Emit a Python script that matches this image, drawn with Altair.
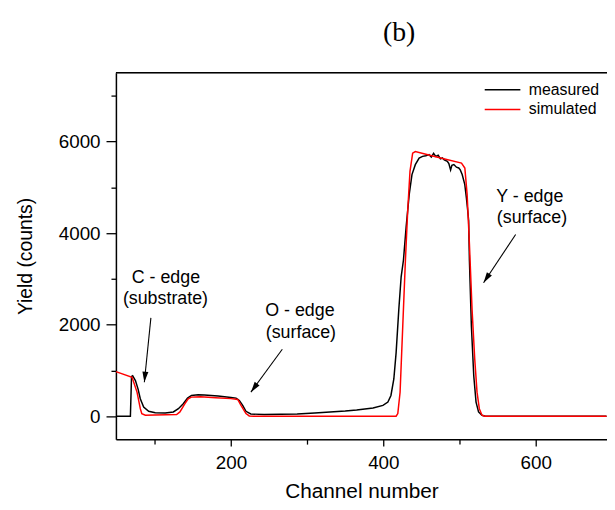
import altair as alt
import pandas as pd

# ---------------- data ----------------
meas_ch = [49, 68, 69.5, 71, 74.6, 78, 81, 85.4, 92, 100.6, 113.6, 124.4, 131, 137.4,
           143, 148.2, 156.9, 165, 174, 183, 191.5, 200, 206.7, 211, 215.4, 219.7, 226,
           243.5, 265, 286.9, 310, 330, 350, 365, 386.5, 399.5, 406, 410, 413.8, 416.8,
           420.3, 423.4, 426.4, 429.9, 434, 437.6, 442, 447, 451.5, 455.8, 460, 463, 466,
           468.8, 472, 475, 477.5, 480, 484, 486, 488.3, 490, 492.6, 496, 499, 501, 503.5,
           506.9, 509, 510.8, 512, 513, 515.6, 518.7, 521.7, 525, 529.5, 534, 693]
meas_y = [0, 0, 870, 886, 778, 598, 382, 202, 108, 79, 72, 94, 166, 274,
          396, 454, 468, 465, 454, 440, 425, 410, 396, 346, 238, 108, 50,
          36, 42, 50, 70, 94, 115, 137, 180, 238, 310, 454, 814, 1390,
          2326, 3046, 3406, 4126, 4846, 5278, 5494, 5638, 5676, 5688, 5713, 5660, 5740,
          5676, 5700, 5620, 5640, 5600, 5568, 5520, 5380, 5480, 5497, 5440, 5423, 5380, 5280,
          5065, 4776, 4488, 4272, 3406, 1966, 886, 310, 94, 22, 0, 0]

sim_ch = [49, 70.2, 76.7, 81, 83, 87.6, 100, 115, 128.7, 133, 139.6, 143.9, 148, 160,
          180, 200, 208.9, 213.2, 219.7, 224, 230, 416.8, 419, 422, 425.5, 429, 432, 435,
          438.5, 442, 470, 502.6, 507, 510, 513, 516.5, 520, 523, 526, 529.5, 533, 693]
sim_y = [975, 851, 527, 166, 58, 22, 30, 35, 37, 95, 274, 382, 418, 425,
         405, 385, 367, 238, 58, 7, 0, 0, 58, 525, 1966, 3406, 4486, 5350,
         5746, 5782, 5660, 5530, 5422, 4846, 3766, 2326, 1246, 526, 166, 22, 0, 0]

series_names = ["measured", "simulated"]
series_colors = ["black", "#ff0000"]

x_major = [200, 400, 600]
x_minor = [100, 300, 500]
y_major = [0, 2000, 4000, 6000]
y_minor = [1000, 3000, 5000, 7000]

label_text = ["C - edge", "(substrate)", "O - edge", "(surface)", "Y - edge", "(surface)"]
label_ch = [114.6, 114.0, 290.5, 291.8, 592.3, 595.1]
label_y = [3012, 2558, 2290, 1808, 4790, 4322]

arrow_x0 = [94.9, 267.4, 573.7]
arrow_y0 = [2148, 1463, 3969]
arrow_x1 = [86.3, 226.2, 531.6]
arrow_y1 = [743, 527, 2917]
arrow_angle = [5.8, 36.2, 33.6]

# ---------------- chart ----------------
W, H = 496, 370
FONT = "Liberation Sans"

df = pd.concat([
    pd.DataFrame({"ch": meas_ch, "y": meas_y, "series": series_names[0]}),
    pd.DataFrame({"ch": sim_ch, "y": sim_y, "series": series_names[1]}),
], ignore_index=True)

xs = alt.Scale(domain=[49, 693.6], nice=False, zero=False)
ys = alt.Scale(domain=[-500, 7500], nice=False, zero=False)

lines = alt.Chart(df).mark_line(strokeWidth=1.5, clip=True).encode(
    x=alt.X("ch:Q", scale=xs, axis=alt.Axis(
        values=x_major, orient="bottom", format="d", tickSize=7, tickWidth=1.3,
        labelPadding=8, labelFontSize=19, labelFont=FONT, labelColor="black",
        title="Channel number", titleFont=FONT, titleFontSize=21, titleFontWeight="normal",
        titleColor="black", titleBaseline="alphabetic", titleY=58.5,
        domainColor="black", domainWidth=1.5, tickColor="black", grid=False)),
    y=alt.Y("y:Q", scale=ys, axis=alt.Axis(
        values=y_major, orient="left", format="d", tickSize=10, tickWidth=1.3,
        labelPadding=6, labelFontSize=19, labelFont=FONT, labelColor="black",
        title="Yield (counts)", titleFont=FONT, titleFontSize=19.5, titleFontWeight="normal",
        titleColor="black", titleBaseline="middle", titleX=-91, titleY=H / 2,
        titleAngle=270, titleAlign="center",
        domainColor="black", domainWidth=1.5, tickColor="black", grid=False)),
    color=alt.Color("series:N",
                    scale=alt.Scale(domain=series_names, range=series_colors),
                    legend=alt.Legend(
                        title=None, orient="none", legendX=382.5, legendY=9,
                        symbolType="M-4,0H4", symbolSize=81, symbolStrokeWidth=1.5,
                        labelFont=FONT, labelFontSize=16, labelColor="black",
                        labelOffset=18.5, rowPadding=4, padding=0)),
)

minor = alt.Chart(df).mark_point(opacity=0).encode(
    x=alt.X("ch:Q", scale=xs, axis=alt.Axis(
        values=x_minor, orient="bottom", tickSize=5, tickWidth=1.3, labels=False,
        domain=False, title=None, tickColor="black", grid=False)),
    y=alt.Y("y:Q", scale=ys, axis=alt.Axis(
        values=y_minor, orient="left", tickSize=5, tickWidth=1.3, labels=False,
        domain=False, title=None, tickColor="black", grid=False)),
)

top_line = alt.Chart(pd.DataFrame({"a": [0]})).mark_rule(
    color="black", strokeWidth=1.5).encode(
    x=alt.value(0), x2=alt.value(W), y=alt.value(0))

ann_df = pd.DataFrame({"t": label_text, "ch": label_ch, "y": label_y})
ann = alt.Chart(ann_df).mark_text(
    font=FONT, fontSize=18, align="center", baseline="middle", color="black").encode(
    x=alt.X("ch:Q", scale=xs, axis=None),
    y=alt.Y("y:Q", scale=ys, axis=None),
    text="t:N")

arr_df = pd.DataFrame({"x0": arrow_x0, "y0": arrow_y0, "x1": arrow_x1,
                       "y1": arrow_y1, "ang": arrow_angle})
arr_lines = alt.Chart(arr_df).mark_rule(color="black", strokeWidth=1.1).encode(
    x=alt.X("x0:Q", scale=xs, axis=None),
    y=alt.Y("y0:Q", scale=ys, axis=None),
    x2="x1:Q", y2="y1:Q")
arr_heads = alt.Chart(arr_df).mark_point(
    shape="M0,0L-0.4,-1.4L0.4,-1.4Z", filled=True, size=230, color="black",
    opacity=1).encode(
    x=alt.X("x1:Q", scale=xs, axis=None),
    y=alt.Y("y1:Q", scale=ys, axis=None),
    angle=alt.Angle("ang:Q", scale=None))

chart = alt.layer(lines, minor, top_line, ann, arr_lines, arr_heads).resolve_axis(
    x="independent", y="independent").properties(
    width=W, height=H,
    autosize=alt.AutoSizeParams(type="none"),
    padding={"left": 109, "top": 63, "right": 0, "bottom": 61},
    title=alt.TitleParams("(b)", font="Liberation Serif", fontSize=28,
                          fontWeight="normal", color="black", anchor="middle",
                          frame="group", dx=38, offset=3, baseline="alphabetic"),
).configure_view(stroke=None).configure(background="white")

chart.save("out.html", embed_options={"renderer": "svg", "actions": False})
